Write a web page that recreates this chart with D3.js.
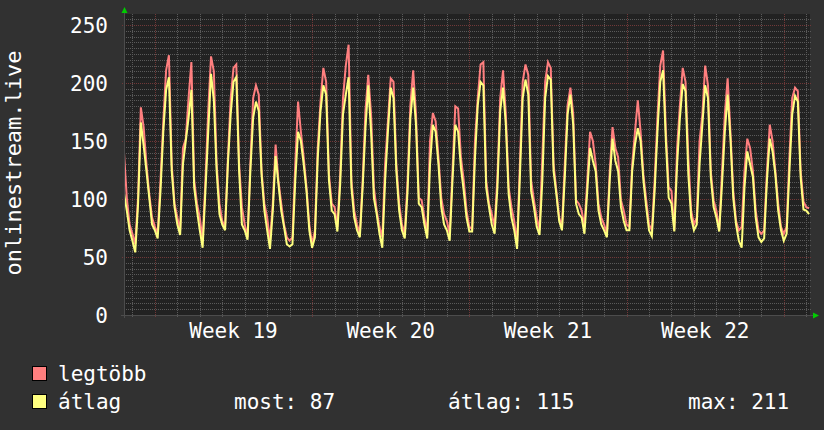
<!DOCTYPE html>
<html lang="hu">
<head>
<meta charset="UTF-8">
<title>onlinestream.live</title>
<script src="https://cdnjs.cloudflare.com/ajax/libs/d3/7.8.5/d3.min.js"></script>
<style>
  body { margin: 0; background: #313131; }
  svg { display: block; font-family: "DejaVu Sans Mono", monospace; }
</style>
</head>
<body>
<svg id="chart" width="824" height="430"></svg>
<script>
// one sample every 3 hours, first sample 9 hours before the first midnight
const stepHours = 3;
const firstMidnight = 9;
const totalHours = 733;
const weekStartDays = [1, 8, 15, 22, 29];
const weekLabels = ["Week 19", "Week 20", "Week 21", "Week 22"];
const yTicks = [0, 50, 100, 150, 200, 250];
const legendNames = ["legtöbb", "átlag"];
const statLabels = ["most: 87", "átlag: 115", "max: 211"];

// legtöbb (max)
const legtobb = [
  140, 101, 78,
  70, 61, 101, 179, 162, 130, 104, 84,
  76, 70, 116, 167, 211, 224, 130, 96,
  84, 73, 144, 152, 187, 218, 116, 96,
  84, 64, 116, 176, 223, 210, 130, 96,
  81, 76, 135, 187, 213, 216, 130, 93,
  78, 67, 130, 187, 198, 190, 124, 96,
  84, 64, 96, 147, 116, 96, 78, 67,
  64, 67, 130, 184, 158, 136, 110, 78,
  61, 73, 144, 184, 213, 201, 121, 96,
  93, 76, 121, 187, 215, 233, 116, 90,
  78, 70, 116, 176, 207, 173, 110, 90,
  76, 67, 130, 167, 204, 201, 130, 96,
  78, 70, 116, 181, 211, 173, 101, 99,
  84, 70, 150, 174, 167, 136, 101, 87,
  81, 70, 124, 180, 178, 136, 116, 90,
  76, 74, 150, 187, 216, 218, 116, 96,
  87, 76, 119, 187, 211, 173, 110, 93,
  81, 61, 130, 201, 216, 207, 116, 99,
  84, 73, 136, 201, 218, 213, 130, 107,
  84, 76, 130, 181, 196, 173, 99, 96,
  90, 76, 116, 158, 150, 130, 96, 84,
  78, 70, 124, 162, 144, 136, 99, 90,
  78, 76, 130, 158, 185, 158, 121, 99,
  78, 73, 116, 170, 215, 228, 158, 110,
  107, 73, 144, 181, 213, 201, 136, 90,
  78, 84, 150, 173, 215, 198, 124, 99,
  90, 73, 124, 173, 204, 158, 107, 81,
  73, 76, 124, 152, 144, 124, 90, 73,
  70, 73, 124, 164, 150, 124, 96, 76,
  70, 76, 136, 187, 196, 193, 124, 98,
  93, 92
];

// átlag (average)
const atlag = [
  105, 90, 73,
  64, 54, 95, 166, 146, 124, 101, 78,
  73, 66, 107, 158, 194, 205, 124, 93,
  78, 69, 130, 150, 170, 194, 110, 90,
  73, 58, 107, 158, 208, 185, 124, 87,
  78, 73, 130, 173, 201, 205, 124, 78,
  73, 65, 124, 170, 184, 176, 121, 90,
  73, 57, 90, 137, 113, 90, 76, 61,
  59, 61, 116, 158, 150, 130, 107, 73,
  58, 67, 135, 176, 198, 190, 116, 90,
  87, 72, 113, 173, 190, 205, 110, 84,
  73, 67, 110, 161, 198, 158, 101, 87,
  70, 58, 116, 158, 196, 187, 124, 90,
  73, 66, 107, 170, 196, 164, 96, 93,
  78, 66, 130, 164, 158, 130, 93, 78,
  73, 64, 116, 164, 158, 127, 107, 84,
  72, 72, 135, 181, 201, 198, 110, 93,
  78, 70, 110, 176, 196, 164, 104, 84,
  73, 57, 119, 187, 203, 190, 107, 93,
  76, 69, 116, 187, 206, 203, 124, 104,
  81, 73, 119, 173, 190, 164, 96, 87,
  84, 70, 107, 144, 133, 124, 90, 78,
  73, 67, 116, 152, 133, 124, 93, 81,
  73, 73, 124, 147, 161, 150, 116, 93,
  73, 68, 107, 158, 201, 211, 150, 101,
  96, 72, 130, 170, 199, 193, 121, 84,
  73, 78, 130, 164, 198, 187, 119, 93,
  84, 72, 113, 158, 190, 152, 101, 78,
  64, 58, 110, 141, 130, 119, 84, 67,
  63, 66, 116, 152, 141, 121, 90, 73,
  64, 70, 124, 173, 189, 184, 119, 91,
  90, 87
];

const plotLeft = 124, plotRight = 810, plotTop = 14, plotBottom = 315;
const svg = d3.select("#chart");

const x = d3.scaleLinear().domain([0, totalHours]).range([plotLeft, plotRight]);
const y = d3.scaleLinear().domain([0, 259.5]).range([plotBottom, plotTop]);

svg.append("rect").attr("width", 824).attr("height", 430).attr("fill", "#313131");
svg.append("rect")
   .attr("x", plotLeft).attr("y", plotTop)
   .attr("width", plotRight - plotLeft).attr("height", plotBottom - plotTop)
   .attr("fill", "#222222");

// grid
const minorY = d3.range(5, 259, 5).filter(v => v % 50 !== 0);
const majorY = yTicks.filter(v => v > 0);
const dayHours = d3.range(0, 31).map(d => firstMidnight + 24 * d).filter(h => h < totalHours);
const weekHours = weekStartDays.map(d => firstMidnight + 24 * d);
const minorX = dayHours.filter(h => !weekHours.includes(h));

const grid = svg.append("g").attr("stroke-dasharray", "1,1").attr("shape-rendering", "crispEdges");
grid.selectAll(".hmin").data(minorY).enter().append("line")
    .attr("x1", plotLeft).attr("x2", plotRight + 1)
    .attr("y1", d => Math.round(y(d)) + 0.5).attr("y2", d => Math.round(y(d)) + 0.5)
    .attr("stroke", "#5a5a5a");
grid.selectAll(".vmin").data(minorX).enter().append("line")
    .attr("x1", d => Math.round(x(d)) + 0.5).attr("x2", d => Math.round(x(d)) + 0.5)
    .attr("y1", plotTop).attr("y2", plotBottom + 3)
    .attr("stroke", "#5a5a5a");
grid.selectAll(".hmaj").data(majorY).enter().append("line")
    .attr("x1", plotLeft - 2).attr("x2", plotRight + 2)
    .attr("y1", d => Math.round(y(d)) + 0.5).attr("y2", d => Math.round(y(d)) + 0.5)
    .attr("stroke", "#703838");
grid.selectAll(".vmaj").data(weekHours).enter().append("line")
    .attr("x1", d => Math.round(x(d)) + 0.5).attr("x2", d => Math.round(x(d)) + 0.5)
    .attr("y1", plotTop).attr("y2", plotBottom + 3)
    .attr("stroke", "#703838");

// series
svg.append("clipPath").attr("id", "plot")
   .append("rect").attr("x", plotLeft).attr("y", plotTop)
   .attr("width", plotRight - plotLeft).attr("height", plotBottom - plotTop);

const line = d3.line()
    .x((d, i) => x(i * stepHours))
    .y(d => y(d));

const series = [
  { values: legtobb, color: "#ff7f7f" },
  { values: atlag, color: "#ffff7f" }
];
svg.append("g").attr("clip-path", "url(#plot)")
   .selectAll("path").data(series).enter().append("path")
   .attr("d", d => line(d.values))
   .attr("fill", "none")
   .attr("stroke", d => d.color)
   .attr("stroke-width", 2)
   .attr("stroke-linejoin", "miter");

// axes
svg.append("line").attr("x1", plotLeft + 0.5).attr("x2", plotLeft + 0.5)
   .attr("y1", plotBottom + 3).attr("y2", 10).attr("stroke", "#4c4c4c");
svg.append("line").attr("x1", plotLeft - 3).attr("x2", plotRight + 4)
   .attr("y1", plotBottom + 0.5).attr("y2", plotBottom + 0.5).attr("stroke", "#4c4c4c");
svg.append("path").attr("d", `M${plotLeft - 2.5},13L${plotLeft + 3.5},13L${plotLeft + 0.5},7Z`).attr("fill", "#00cc00");
svg.append("path").attr("d", `M${plotRight + 3},${plotBottom - 2.5}L${plotRight + 3},${plotBottom + 3.5}L${plotRight + 9},${plotBottom + 0.5}Z`).attr("fill", "#00cc00");

// labels
svg.selectAll(".ylab").data(yTicks).enter().append("text")
   .attr("x", 108).attr("y", d => y(d) + 8)
   .attr("text-anchor", "end")
   .attr("font-size", 21).attr("fill", "#ffffff")
   .text(d => d);

svg.selectAll(".wlab").data(weekLabels).enter().append("text")
   .attr("x", (d, i) => x(weekHours[i] + 84))
   .attr("y", 338)
   .attr("text-anchor", "middle")
   .attr("font-size", 21).attr("fill", "#ffffff")
   .text(d => d);

svg.append("text")
   .attr("transform", "translate(21,163) rotate(-90)")
   .attr("text-anchor", "middle")
   .attr("font-size", 22).attr("fill", "#ffffff")
   .text("onlinestream.live");

// legend
const legend = svg.append("g");
legend.selectAll("rect").data(series).enter().append("rect")
   .attr("x", 32.5).attr("y", (d, i) => 366.5 + i * 28)
   .attr("width", 14).attr("height", 14)
   .attr("fill", d => d.color).attr("stroke", "#000");
legend.selectAll(".lname").data(legendNames).enter().append("text")
   .attr("x", 58).attr("y", (d, i) => 381 + i * 28)
   .attr("font-size", 21).attr("fill", "#ffffff")
   .text(d => d);
const statX = [234, 448, 688];
legend.selectAll(".stat").data(statLabels).enter().append("text")
   .attr("x", (d, i) => statX[i]).attr("y", 409)
   .attr("font-size", 21).attr("fill", "#ffffff")
   .text(d => d);
</script>
</body>
</html>
